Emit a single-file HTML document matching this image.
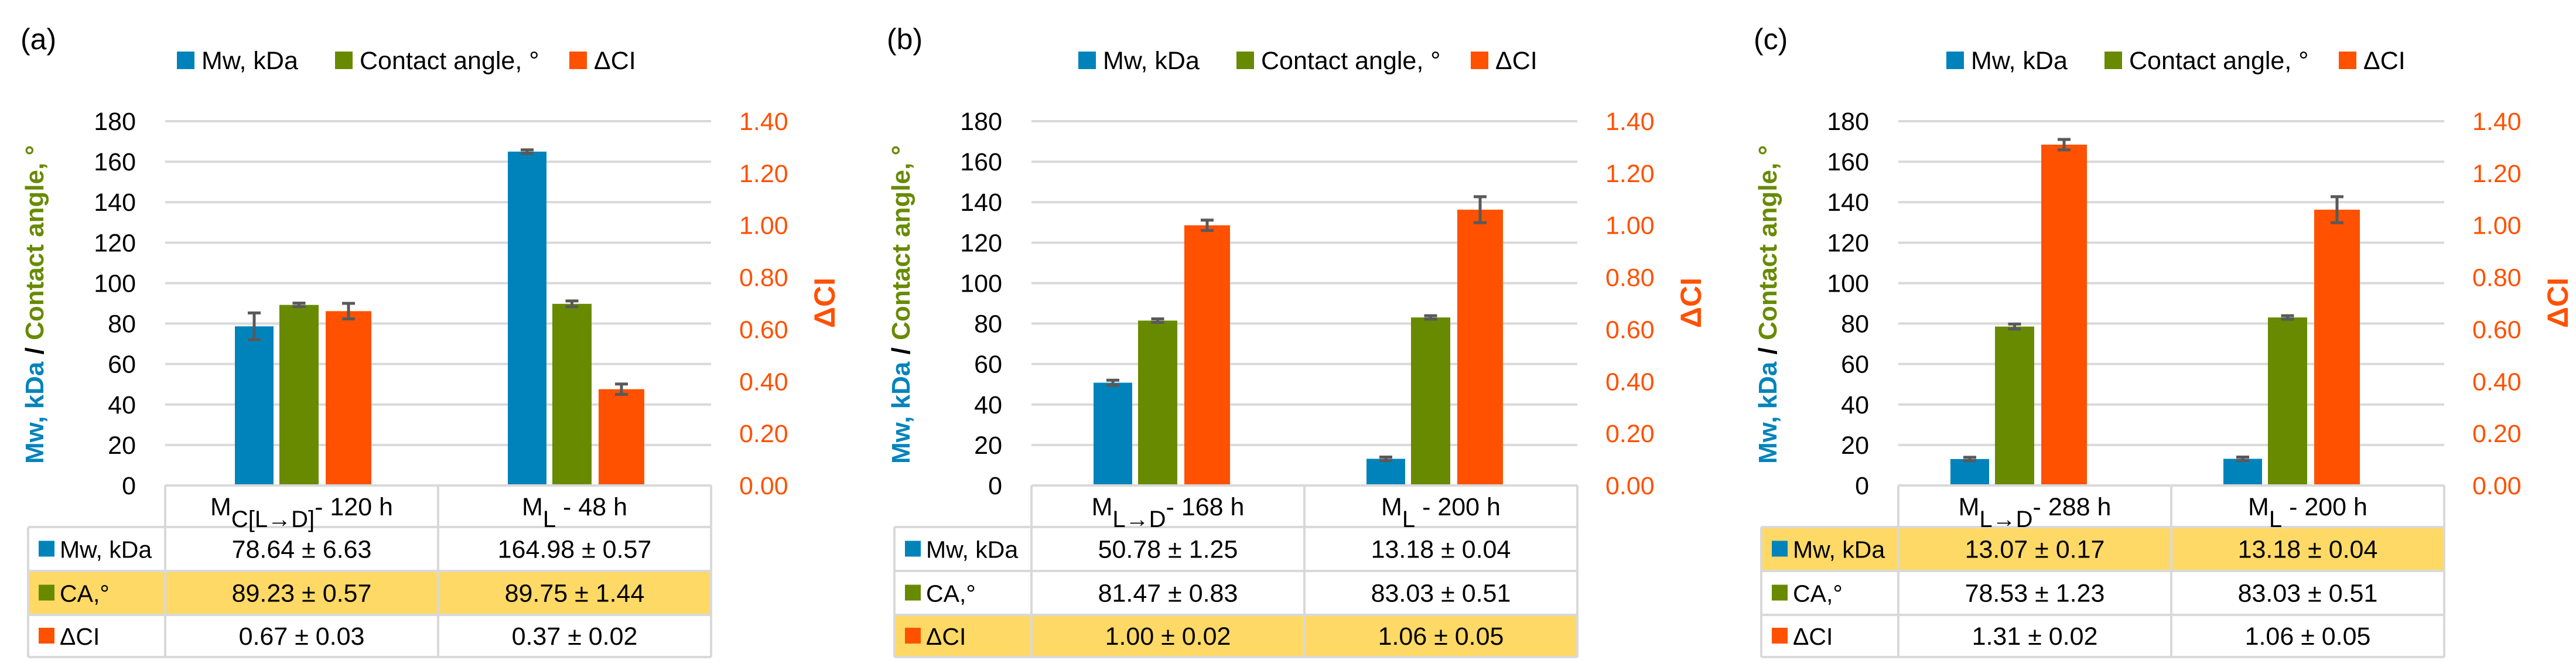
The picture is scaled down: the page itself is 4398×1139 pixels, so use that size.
<!DOCTYPE html>
<html><head><meta charset="utf-8"><title>Mw, contact angle and ΔCI charts</title>
<style>
html,body{margin:0;padding:0;background:#fff;}
svg{display:block;font-family:"Liberation Sans",sans-serif;}
</style></head>
<body>
<svg id="chart" width="4398" height="1139" viewBox="0 0 4398 1139" xmlns="http://www.w3.org/2000/svg"></svg>
<script>
// ---- data ----
const panelLabels = ["(a)", "(b)", "(c)"];
const categoryMain = [["M", "M"], ["M", "M"], ["M", "M"]];
const categorySub = [["C[L→D]", "L"], ["L→D", "L"], ["L→D", "L"]];
const categoryTail = [["- 120 h", " - 48 h"], ["- 168 h", " - 200 h"], ["- 288 h", " - 200 h"]];
const mwValues = [[78.64, 164.98], [50.78, 13.18], [13.07, 13.18]];
const mwErrors = [[6.63, 0.57], [1.25, 0.04], [0.17, 0.04]];
const caValues = [[89.23, 89.75], [81.47, 83.03], [78.53, 83.03]];
const caErrors = [[0.57, 1.44], [0.83, 0.51], [1.23, 0.51]];
const ciValues = [[0.67, 0.37], [1.00, 1.06], [1.31, 1.06]];
const ciErrors = [[0.03, 0.02], [0.02, 0.05], [0.02, 0.05]];
const leftTicks = [0, 20, 40, 60, 80, 100, 120, 140, 160, 180];
const rightTicks = [0, 0.2, 0.4, 0.6, 0.8, 1.0, 1.2, 1.4];
const highlightRow = [1, 2, 0];
const rowNames = ["Mw, kDa", "CA,°", "ΔCI"];

// ---- layout ----
const NS = "http://www.w3.org/2000/svg";
const svg = document.getElementById("chart");
const BLUE = "#0083BA", GREEN = "#688A00", ORANGE = "#FF5100", GRID = "#D9D9D9", ERR = "#595959";
const panelX = [0, 1479, 2959];
const barShift = [0, -13, -30];
const legendShift = [0, 60, 62];
const Y0 = 829, Y180 = 207;
const yL = v => Y0 - v / 180 * (Y0 - Y180);
const yR = v => Y0 - v / 1.4 * (Y0 - Y180);
function el(tag, attrs, parent) {
  const e = document.createElementNS(NS, tag);
  for (const k in attrs) e.setAttribute(k, attrs[k]);
  (parent || svg).appendChild(e);
  return e;
}
function fmtErr(v, e) { return v.toFixed(2) + " ± " + e.toFixed(2); }

for (let p = 0; p < 3; p++) {
  const ox = panelX[p];
  const g = el("g", {});
  
  
  const plotL = ox + 282, plotR = ox + 1214;
  const catW = (plotR - plotL) / 2;
  const xC = i => plotL + catW * (i + 0.5);

  const lab = el("text", {x: ox + 35, y: 84, "font-size": 50, fill: "#000"}, g);
  lab.textContent = panelLabels[p];
  
  

  // legend
  const lx = ox + legendShift[p];
  const legItems = [[BLUE, "Mw, kDa", 302], [GREEN, "Contact angle, °", 572], [ORANGE, "ΔCI", 972]];
  legItems.forEach((it) => {
    const lg = el("g", {}, g);
    
    
    el("rect", {x: lx + it[2], y: 88, width: 30, height: 30, fill: it[0]}, lg);
    const t = el("text", {x: lx + it[2] + 42, y: 118, "font-size": 43, fill: "#000"}, lg);
    t.textContent = it[1];
  });

  // gridlines & ticks
  leftTicks.forEach(v => {
    if (v > 0) {
      const ln = el("line", {x1: plotL, x2: plotR, y1: yL(v), y2: yL(v), stroke: GRID, "stroke-width": 4}, g);
      
      
    }
    const t = el("text", {x: ox + 232, y: yL(v) + 15, "font-size": 43, "text-anchor": "end", fill: "#000"}, g);
    t.textContent = v;
    
    
  });
  rightTicks.forEach(v => {
    const t = el("text", {x: ox + 1262, y: yR(v) + 15, "font-size": 43, fill: ORANGE}, g);
    t.textContent = v.toFixed(2);
    
    
  });

  // axis titles
  const yt = el("text", {x: 0, y: 0, "font-size": 44, "font-weight": "bold", "text-anchor": "middle",
    transform: "translate(" + (ox + 74) + ",520) rotate(-90)"}, g);
  
  
  const s1 = el("tspan", {fill: BLUE}, yt); s1.textContent = "Mw, kDa";
  const s2 = el("tspan", {fill: "#000"}, yt); s2.textContent = " / ";
  const s3 = el("tspan", {fill: GREEN}, yt); s3.textContent = "Contact angle, °";
  const y2t = el("text", {x: 0, y: 0, "font-size": 50, "font-weight": "bold", "text-anchor": "middle", fill: ORANGE,
    transform: "translate(" + (ox + 1425) + ",517) rotate(-90)"}, g);
  y2t.textContent = "ΔCI";
  
  

  // bars
  const sh = barShift[p];
  const series = [
    {vals: mwValues[p], errs: mwErrors[p], col: BLUE, x0: -114, w: 66, sc: yL, name: "mw"},
    {vals: caValues[p], errs: caErrors[p], col: GREEN, x0: -38, w: 67, sc: yL, name: "ca"},
    {vals: ciValues[p], errs: ciErrors[p], col: ORANGE, x0: 41, w: 78, sc: yR, name: "ci"}
  ];
  series.forEach(s => {
    s.vals.forEach((v, i) => {
      const bx = xC(i) + s.x0 + sh;
      const top = s.sc(v);
      const r = el("rect", {x: bx, y: top, width: s.w, height: Y0 - top, fill: s.col}, g);
      
      
      const cx = bx + s.w / 2;
      let hi = s.sc(v + s.errs[i]), lo = s.sc(v - s.errs[i]);
      if (lo - hi < 6) { hi = top - 3; lo = top + 3; }
      const eg = el("g", {stroke: ERR, "stroke-width": 5}, g);
      
      
      el("line", {x1: cx, x2: cx, y1: hi, y2: lo}, eg);
      el("line", {x1: cx - 11, x2: cx + 11, y1: hi, y2: hi}, eg);
      el("line", {x1: cx - 11, x2: cx + 11, y1: lo, y2: lo}, eg);
    });
  });

  // data table
  const tL = ox + 48, rowTops = [900, 975, 1050], tB = 1122;
  const hr = highlightRow[p];
  const hl = el("rect", {x: tL, y: rowTops[hr], width: plotR - tL, height: (hr < 2 ? rowTops[hr + 1] : tB) - rowTops[hr], fill: "#FFD966"}, g);
  
  
  const tg = el("g", {stroke: GRID, "stroke-width": 4, fill: "none"}, g);
  
  
  el("line", {x1: plotL, x2: plotR, y1: Y0, y2: Y0}, tg);
  el("line", {x1: plotL, x2: plotL, y1: Y0, y2: tB}, tg);
  el("line", {x1: plotL + catW, x2: plotL + catW, y1: Y0, y2: tB}, tg);
  el("line", {x1: plotR, x2: plotR, y1: Y0, y2: tB}, tg);
  el("line", {x1: tL, x2: tL, y1: rowTops[0], y2: tB}, tg);
  rowTops.concat([tB]).forEach(y => el("line", {x1: tL, x2: plotR, y1: y, y2: y}, tg));

  // header category labels
  [0, 1].forEach(i => {
    const t = el("text", {x: xC(i), y: 880, "font-size": 43, "text-anchor": "middle", fill: "#000"}, g);
    
    
    const a = el("tspan", {}, t); a.textContent = categoryMain[p][i];
    const b = el("tspan", {dy: 20, "font-size": 40}, t); b.textContent = categorySub[p][i];
    const c = el("tspan", {dy: -20}, t); c.textContent = categoryTail[p][i];
  });

  // table rows
  const rowVals = [[mwValues[p], mwErrors[p]], [caValues[p], caErrors[p]], [ciValues[p], ciErrors[p]]];
  const rowCols = [BLUE, GREEN, ORANGE];
  rowVals.forEach((rv, r) => {
    const cy = (rowTops[r] + (r < 2 ? rowTops[r + 1] : tB)) / 2;
    const rg = el("g", {}, g);
    
    
    el("rect", {x: tL + 18, y: cy - 14, width: 27, height: 27, fill: rowCols[r]}, rg);
    const nm = el("text", {x: tL + 54, y: cy + 15, "font-size": 41, fill: "#000"}, rg);
    nm.textContent = rowNames[r];
    [0, 1].forEach(i => {
      const t = el("text", {x: xC(i), y: cy + 15, "font-size": 43, "text-anchor": "middle", fill: "#000"}, rg);
      t.textContent = fmtErr(rv[0][i], rv[1][i]);
    });
  });
}
</script>
</body></html>
